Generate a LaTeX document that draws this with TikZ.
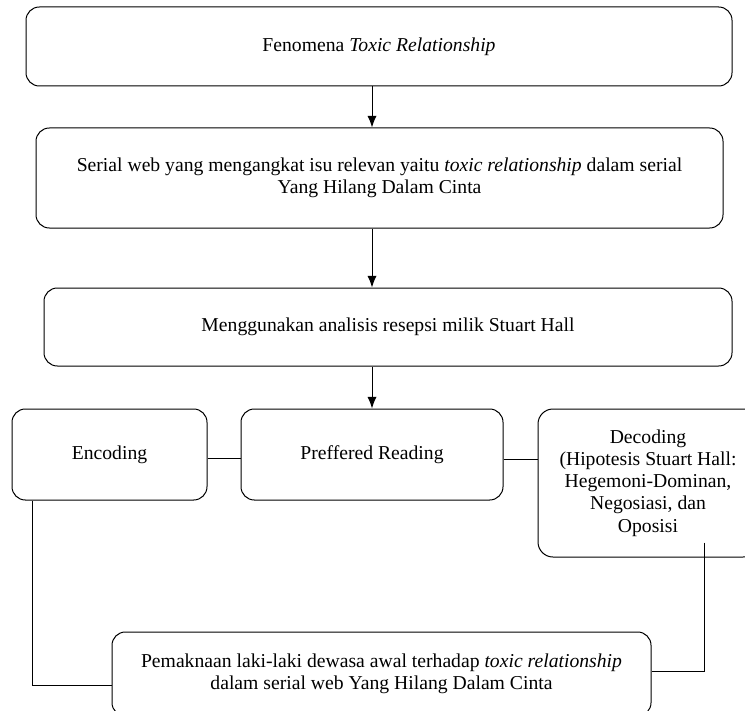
\documentclass[tikz,border=0pt]{standalone}
\usepackage{fontspec}
\setmainfont{Liberation Serif}
\usetikzlibrary{calc, shapes, arrows, arrows.meta, positioning}
\tikzstyle{flow_arrow}=[line width=0.6pt,> = {Latex[length=7pt,width=5.5pt]}]
\newcommand{\unitpx}{0.6pt}

\begin{document}
\begin{tikzpicture}[x=0.6pt, y=-0.6pt]
			\tikzset{box/.style = {shape=rectangle, draw, rounded corners=8pt, line width=0.6pt, inner sep=0pt, align=center, font=\fontsize{11.8}{13.3}\selectfont}}
			\tikzset{edge/.style = {-, line width=0.6pt}}
			\tikzset{arrow/.style = {flow_arrow, ->}}
			\useasboundingbox (0,0) rectangle (745,710);

			% boxes
			\node[box, minimum width=706*\unitpx, minimum height=79*\unitpx] (f) at (379,46.5) {Fenomena \textit{Toxic Relationship}};
			\node[box, minimum width=687*\unitpx, minimum height=100*\unitpx] (s) at (379.5,178) {Serial web yang mengangkat isu relevan yaitu \textit{toxic relationship} dalam serial\\Yang Hilang Dalam Cinta};
			\node[box, minimum width=688*\unitpx, minimum height=78*\unitpx] (a) at (388,327) {Menggunakan analisis resepsi milik Stuart Hall};
			\node[box, minimum width=195*\unitpx, minimum height=91*\unitpx] (e) at (109.5,454.5) {Encoding};
			\node[box, minimum width=262*\unitpx, minimum height=91*\unitpx] (p) at (372,454.5) {Preffered Reading};
			\node[box, minimum width=220*\unitpx, minimum height=148*\unitpx, rounded corners=9pt] (d) at (648,483) {Decoding\\(Hipotesis Stuart Hall:\\Hegemoni-Dominan,\\Negosiasi, dan\\Oposisi};
			\node[box, minimum width=539*\unitpx, minimum height=84*\unitpx] (k) at (381.5,674) {Pemaknaan laki-laki dewasa awal terhadap \textit{toxic relationship}\\dalam serial web Yang Hilang Dalam Cinta};

			%edges
			\draw[arrow] (p.north |- f.south) -- (p.north |- s.north);
			\draw[arrow] (p.north |- s.south) -- (p.north |- a.north);
			\draw[arrow] (p.north |- a.south) -- (p.north);
			\draw[edge] ($(e.east)+(0,4)$) -- ($(p.west)+(0,4)$);
			\draw[edge] ($(p.east)+(0,5)$) -- ($(p.east -| d.west)+(0,5)$);
			\draw[edge] ($(e.south west)+(21,0)$) |- ($(k.west)+(0,11)$);
			\draw[edge] ($(d.south east)+(-54,-15)$) |- ($(k.east)+(0,-3)$);
\end{tikzpicture}
\end{document}
